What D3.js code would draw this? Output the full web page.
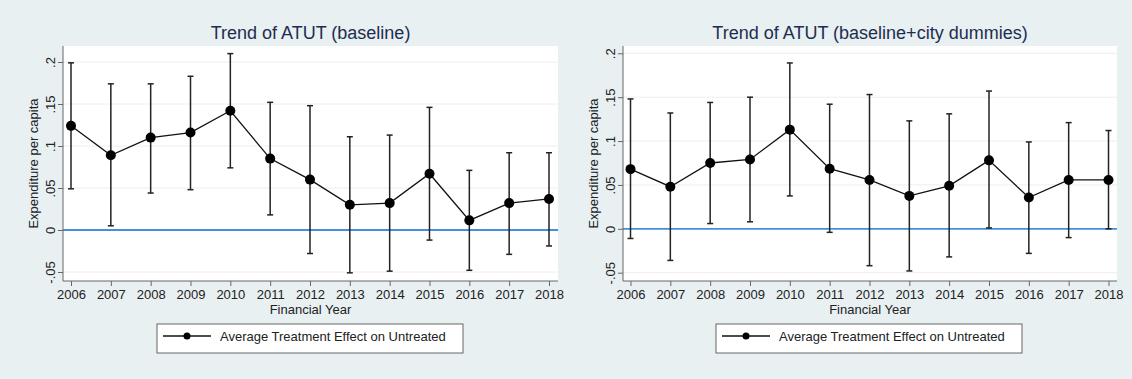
<!DOCTYPE html>
<html>
<head>
<meta charset="utf-8">
<script src="https://cdn.jsdelivr.net/npm/d3@7"></script>
<style>
  body { margin: 0; background: #e8f0f2; }
  svg { display: block; font-family: "Liberation Sans", Arial, sans-serif; }
</style>
</head>
<body>
<script>
'use strict';

const years = [2006, 2007, 2008, 2009, 2010, 2011, 2012, 2013, 2014, 2015, 2016, 2017, 2018];

// baseline model
const atutBase  = [0.124, 0.089, 0.110, 0.116, 0.142, 0.085, 0.060, 0.030, 0.032, 0.067, 0.0115, 0.032, 0.037];
const upperBase = [0.199, 0.174, 0.174, 0.183, 0.210, 0.152, 0.148, 0.111, 0.113, 0.146, 0.071, 0.092, 0.092];
const lowerBase = [0.049, 0.005, 0.044, 0.048, 0.074, 0.018, -0.028, -0.051, -0.049, -0.012, -0.048, -0.029, -0.019];

// baseline + city dummies
const atutCity  = [0.068, 0.048, 0.075, 0.079, 0.113, 0.0685, 0.0557, 0.0375, 0.049, 0.078, 0.0356, 0.0557, 0.0557];
const upperCity = [0.148, 0.132, 0.144, 0.150, 0.189, 0.142, 0.153, 0.123, 0.131, 0.157, 0.099, 0.121, 0.112];
const lowerCity = [-0.011, -0.036, 0.006, 0.008, 0.0375, -0.004, -0.042, -0.048, -0.032, 0.001, -0.028, -0.010, 0.0];

const yTicks = [-0.05, 0, 0.05, 0.1, 0.15, 0.2];
const yTickLabels = ["-.05", "0", ".05", ".1", ".15", ".2"];

const titles = ["Trend of ATUT (baseline)", "Trend of ATUT (baseline+city dummies)"];
const legendLabel = "Average Treatment Effect on Untreated";

const width = 1132, height = 379;

const svg = d3.select("body").append("svg")
  .attr("width", width)
  .attr("height", height);

svg.append("rect")
  .attr("width", width)
  .attr("height", height)
  .attr("fill", "#e8f0f2");

function drawPanel(cfg, est, hi, lo, title) {
  let g = svg.append("g");

  let x = d3.scaleLinear()
    .domain([2006, 2018])
    .range([cfg.x0 + cfg.padL, cfg.x1 - cfg.padR]);
  let y = d3.scaleLinear()
    .domain([-0.05, 0.2])
    .range([cfg.yLo, cfg.yHi]);

  // plot region
  g.append("rect")
    .attr("x", cfg.x0)
    .attr("y", cfg.y0)
    .attr("width", cfg.x1 - cfg.x0)
    .attr("height", cfg.y1 - cfg.y0)
    .attr("fill", "white");

  // grid
  g.selectAll("line.grid")
    .data(yTicks)
    .enter()
    .append("line")
    .attr("class", "grid")
    .attr("x1", cfg.x0)
    .attr("x2", cfg.x1)
    .attr("y1", d => y(d))
    .attr("y2", d => y(d))
    .attr("stroke", "#eeeeee")
    .attr("stroke-width", 1);

  // zero reference
  g.append("line")
    .attr("x1", cfg.x0)
    .attr("x2", cfg.x1)
    .attr("y1", y(0))
    .attr("y2", y(0))
    .attr("stroke", "#4490dc")
    .attr("stroke-width", 1.8);

  // y axis
  let yAxis = d3.axisLeft(y)
    .tickValues(yTicks)
    .tickFormat((d, i) => yTickLabels[i])
    .tickSize(5)
    .tickPadding(3);
  let ya = g.append("g")
    .attr("transform", "translate(" + cfg.x0 + ",0)")
    .call(yAxis);
  ya.select(".domain")
    .attr("d", "M0," + cfg.y0 + "V" + cfg.y1)
    .attr("stroke", "#666");
  ya.selectAll(".tick line").attr("stroke", "#666");
  ya.selectAll(".tick text")
    .attr("font-size", 13)
    .attr("fill", "#222")
    .attr("text-anchor", "middle")
    .attr("x", 0)
    .attr("dy", 0)
    .attr("transform", "translate(-8,0) rotate(-90)");

  // x axis
  let xAxis = d3.axisBottom(x)
    .tickValues(years)
    .tickFormat(d3.format("d"))
    .tickSize(5)
    .tickPadding(4);
  let xa = g.append("g")
    .attr("transform", "translate(0," + cfg.y1 + ")")
    .call(xAxis);
  xa.select(".domain")
    .attr("d", "M" + cfg.x0 + ",0H" + cfg.x1)
    .attr("stroke", "#666");
  xa.selectAll(".tick line").attr("stroke", "#666");
  xa.selectAll(".tick text")
    .attr("font-size", 13)
    .attr("fill", "#222");

  // axis titles
  g.append("text")
    .attr("transform", "translate(" + (cfg.x0 - 25) + "," + ((cfg.y0 + cfg.y1) / 2) + ") rotate(-90)")
    .attr("text-anchor", "middle")
    .attr("font-size", 13)
    .attr("fill", "#222")
    .text("Expenditure per capita");

  g.append("text")
    .attr("x", (cfg.x0 + cfg.x1) / 2)
    .attr("y", cfg.y1 + 33)
    .attr("text-anchor", "middle")
    .attr("font-size", 13)
    .attr("fill", "#222")
    .text("Financial Year");

  // title
  g.append("text")
    .attr("x", (cfg.x0 + cfg.x1) / 2)
    .attr("y", 39)
    .attr("text-anchor", "middle")
    .attr("font-size", 18)
    .attr("fill", "#1e2d4f")
    .text(title);

  let rows = years.map((yr, i) => ({ yr: yr, est: est[i], hi: hi[i], lo: lo[i] }));

  // confidence bars
  let bars = g.append("g");
  bars.selectAll("line.ci")
    .data(rows)
    .enter()
    .append("line")
    .attr("class", "ci")
    .attr("x1", d => x(d.yr))
    .attr("x2", d => x(d.yr))
    .attr("y1", d => y(d.hi))
    .attr("y2", d => y(d.lo))
    .attr("stroke", "#222")
    .attr("stroke-width", 1.5);
  ["hi", "lo"].forEach(k => {
    bars.selectAll("line.cap-" + k)
      .data(rows)
      .enter()
      .append("line")
      .attr("class", "cap-" + k)
      .attr("x1", d => x(d.yr) - 3)
      .attr("x2", d => x(d.yr) + 3)
      .attr("y1", d => y(d[k]))
      .attr("y2", d => y(d[k]))
      .attr("stroke", "#222")
      .attr("stroke-width", 1.5);
  });

  // estimate line + markers
  let line = d3.line()
    .x(d => x(d.yr))
    .y(d => y(d.est));
  g.append("path")
    .datum(rows)
    .attr("d", line)
    .attr("fill", "none")
    .attr("stroke", "#111")
    .attr("stroke-width", 1.3);
  g.selectAll("circle.pt")
    .data(rows)
    .enter()
    .append("circle")
    .attr("class", "pt")
    .attr("cx", d => x(d.yr))
    .attr("cy", d => y(d.est))
    .attr("r", 5)
    .attr("fill", "#000");

  // legend
  let lg = g.append("g")
    .attr("transform", "translate(" + cfg.legX + ",324)");
  lg.append("rect")
    .attr("width", 306)
    .attr("height", 29)
    .attr("fill", "white")
    .attr("stroke", "#666")
    .attr("stroke-width", 1);
  lg.append("line")
    .attr("x1", 6)
    .attr("x2", 54)
    .attr("y1", 12)
    .attr("y2", 12)
    .attr("stroke", "#111")
    .attr("stroke-width", 1.3);
  lg.append("circle")
    .attr("cx", 30)
    .attr("cy", 12)
    .attr("r", 3.5)
    .attr("fill", "#000");
  lg.append("text")
    .attr("x", 63)
    .attr("y", 17)
    .attr("font-size", 13)
    .attr("fill", "#222")
    .text(legendLabel);
}

const leftPanel = { x0: 63, x1: 558, y0: 46, y1: 281, padL: 8, padR: 9, yLo: 272, yHi: 62, legX: 157 };
const rightPanel = { x0: 623, x1: 1117, y0: 46, y1: 281, padL: 7.5, padR: 8.5, yLo: 272.7, yHi: 53.3, legX: 716 };

drawPanel(leftPanel, atutBase, upperBase, lowerBase, titles[0]);
drawPanel(rightPanel, atutCity, upperCity, lowerCity, titles[1]);
</script>
</body>
</html>
